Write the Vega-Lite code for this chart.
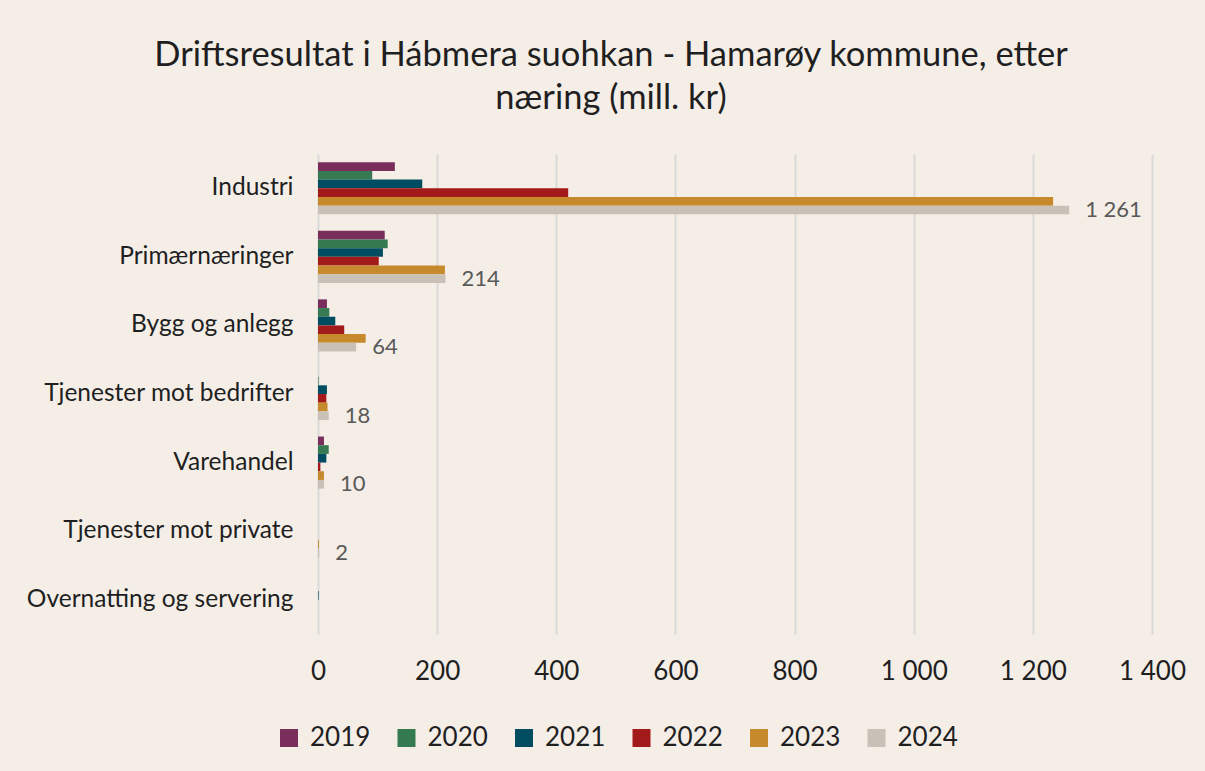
{
  "$schema": "https://vega.github.io/schema/vega-lite/v6.json",
  "width": 834,
  "height": 480,
  "autosize": "none",
  "padding": {"left": 318, "top": 154, "right": 53, "bottom": 137},
  "background": "#F4EEE7",
  "title": {
    "text": ["Driftsresultat i Hábmera suohkan - Hamarøy kommune, etter", "næring (mill. kr)"],
    "anchor": "middle",
    "dx": -124,
    "offset": 38,
    "fontSize": 34.5,
    "font": "Lato",
    "fontWeight": "normal",
    "color": "#1F1F1F",
    "lineHeight": 43
  },
  "config": {
    "locale": {"number": {"decimal": ",", "thousands": " ", "grouping": [3], "currency": ["", " kr"]}},
    "view": {"stroke": null},
    "font": "Lato"
  },
  "data": {
    "values": [
      {"naering": "Industri", "year": "2019", "value": 129},
      {"naering": "Industri", "year": "2020", "value": 91},
      {"naering": "Industri", "year": "2021", "value": 175},
      {"naering": "Industri", "year": "2022", "value": 420},
      {"naering": "Industri", "year": "2023", "value": 1234},
      {"naering": "Industri", "year": "2024", "value": 1261},
      {"naering": "Primærnæringer", "year": "2019", "value": 112},
      {"naering": "Primærnæringer", "year": "2020", "value": 117},
      {"naering": "Primærnæringer", "year": "2021", "value": 109},
      {"naering": "Primærnæringer", "year": "2022", "value": 102},
      {"naering": "Primærnæringer", "year": "2023", "value": 213},
      {"naering": "Primærnæringer", "year": "2024", "value": 214},
      {"naering": "Bygg og anlegg", "year": "2019", "value": 15},
      {"naering": "Bygg og anlegg", "year": "2020", "value": 19},
      {"naering": "Bygg og anlegg", "year": "2021", "value": 29},
      {"naering": "Bygg og anlegg", "year": "2022", "value": 44},
      {"naering": "Bygg og anlegg", "year": "2023", "value": 80},
      {"naering": "Bygg og anlegg", "year": "2024", "value": 64},
      {"naering": "Tjenester mot bedrifter", "year": "2019", "value": 0},
      {"naering": "Tjenester mot bedrifter", "year": "2020", "value": 1},
      {"naering": "Tjenester mot bedrifter", "year": "2021", "value": 15},
      {"naering": "Tjenester mot bedrifter", "year": "2022", "value": 14},
      {"naering": "Tjenester mot bedrifter", "year": "2023", "value": 16},
      {"naering": "Tjenester mot bedrifter", "year": "2024", "value": 18},
      {"naering": "Varehandel", "year": "2019", "value": 10},
      {"naering": "Varehandel", "year": "2020", "value": 18},
      {"naering": "Varehandel", "year": "2021", "value": 14},
      {"naering": "Varehandel", "year": "2022", "value": 4},
      {"naering": "Varehandel", "year": "2023", "value": 10},
      {"naering": "Varehandel", "year": "2024", "value": 10},
      {"naering": "Tjenester mot private", "year": "2019", "value": 0},
      {"naering": "Tjenester mot private", "year": "2020", "value": 0},
      {"naering": "Tjenester mot private", "year": "2021", "value": 0},
      {"naering": "Tjenester mot private", "year": "2022", "value": 0},
      {"naering": "Tjenester mot private", "year": "2023", "value": 1.5},
      {"naering": "Tjenester mot private", "year": "2024", "value": 2},
      {"naering": "Overnatting og servering", "year": "2019", "value": 0},
      {"naering": "Overnatting og servering", "year": "2020", "value": 0},
      {"naering": "Overnatting og servering", "year": "2021", "value": 1},
      {"naering": "Overnatting og servering", "year": "2022", "value": 0},
      {"naering": "Overnatting og servering", "year": "2023", "value": 0}
    ]
  },
  "encoding": {
    "y": {
      "field": "naering",
      "type": "nominal",
      "sort": null,
      "scale": {"paddingInner": 0.24, "paddingOuter": 0.12},
      "axis": {
        "title": null,
        "domain": false,
        "ticks": false,
        "labelFontSize": 24.5,
        "labelColor": "#1F1F1F",
        "labelPadding": 25,
        "labelLimit": 320
      }
    },
    "x": {
      "field": "value",
      "type": "quantitative",
      "scale": {"domain": [0, 1400], "nice": false},
      "axis": {
        "title": null,
        "values": [0, 200, 400, 600, 800, 1000, 1200, 1400],
        "format": ",d",
        "domain": false,
        "ticks": false,
        "labelFlush": false,
        "labelFontSize": 26,
        "labelColor": "#1F1F1F",
        "labelPadding": 24,
        "gridColor": "#D9D9D9",
        "gridWidth": 2
      }
    },
    "yOffset": {"field": "year", "type": "nominal", "sort": "ascending"}
  },
  "layer": [
    {
      "mark": {"type": "bar"},
      "encoding": {
        "color": {
          "field": "year",
          "type": "nominal",
          "scale": {
            "domain": ["2019", "2020", "2021", "2022", "2023", "2024"],
            "range": ["#7A2E5B", "#357A50", "#004D61", "#A21A1A", "#C68A2C", "#C9C1B8"]
          },
          "legend": {
            "title": null,
            "orient": "none",
            "direction": "horizontal",
            "legendX": -42,
            "legendY": 571,
            "symbolType": "square",
            "symbolSize": 324,
            "symbolStrokeWidth": 0,
            "labelFontSize": 26,
            "labelColor": "#1F1F1F",
            "labelOffset": 8,
            "columnPadding": 22.5
          }
        }
      }
    },
    {
      "transform": [{"filter": "datum.year === '2024'"}],
      "mark": {"type": "text", "align": "left", "baseline": "middle", "dx": 16, "fontSize": 22, "color": "#595959"},
      "encoding": {
        "text": {"field": "value", "type": "quantitative", "format": ",d"}
      }
    }
  ]
}
